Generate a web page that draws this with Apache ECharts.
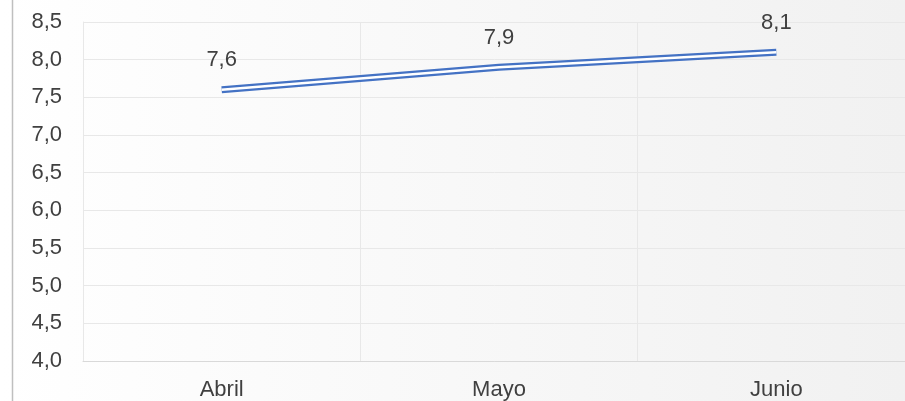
<!DOCTYPE html>
<html><head><meta charset="utf-8">
<script src="https://cdn.jsdelivr.net/npm/echarts@6/dist/echarts.min.js"></script>
<style>html,body{margin:0;padding:0;}#c{width:905px;height:401px;}</style>
</head><body><div id="c"></div>
<script>
const categories = ['Abril', 'Mayo', 'Junio'];
const values = [7.6, 7.9, 8.1];
const yMin = 4.0, yMax = 8.5, yStep = 0.5;

const fmt = v => Number(v).toFixed(1).replace('.', ',');
const FONT = 'Liberation Sans, Arial';
const chart = echarts.init(document.getElementById('c'), null, {renderer: 'canvas'});
chart.setOption({
  animation: false,
  backgroundColor: {type: 'linear', x: 0, y: 0, x2: 1, y2: 0,
    colorStops: [{offset: 0, color: '#ffffff'}, {offset: 1, color: '#f1f1f1'}]},
  graphic: [{type: 'line', shape: {x1: 12.5, y1: 0, x2: 12.5, y2: 401}, style: {stroke: '#bfbfbf', lineWidth: 1.5}, z: 100}],
  grid: {left: 83, width: 832, top: 22, height: 339, containLabel: false, outerBoundsMode: 'none'},
  xAxis: {
    type: 'category', data: categories, boundaryGap: true,
    axisLine: {show: true, lineStyle: {color: '#d9d9d9', width: 1}},
    axisTick: {show: false},
    splitLine: {show: true, lineStyle: {color: '#e8e8e8'}},
    axisLabel: {color: '#404040', fontSize: 22, fontFamily: FONT, margin: 18}
  },
  yAxis: {
    type: 'value', min: yMin, max: yMax, interval: yStep,
    axisLine: {show: true, lineStyle: {color: '#e8e8e8'}},
    axisTick: {show: false},
    splitLine: {lineStyle: {color: '#e8e8e8'}},
    axisLabel: {color: '#404040', fontSize: 22, fontFamily: FONT, margin: 21, formatter: fmt}
  },
  series: [
    {type: 'line', data: values, symbol: 'none', lineStyle: {color: '#4472C4', width: 7}, z: 2},
    {type: 'line', data: values, symbol: 'circle', symbolSize: 1, showSymbol: true,
     itemStyle: {color: 'rgba(0,0,0,0)', borderWidth: 0},
     lineStyle: {color: '#ffffff', width: 2.5}, z: 3,
     label: {show: true, position: 'top', distance: 18, color: '#404040', fontSize: 22, fontFamily: FONT, formatter: p => fmt(p.value)},
     labelLayout: {hideOverlap: false}}
  ]
});
</script></body></html>
